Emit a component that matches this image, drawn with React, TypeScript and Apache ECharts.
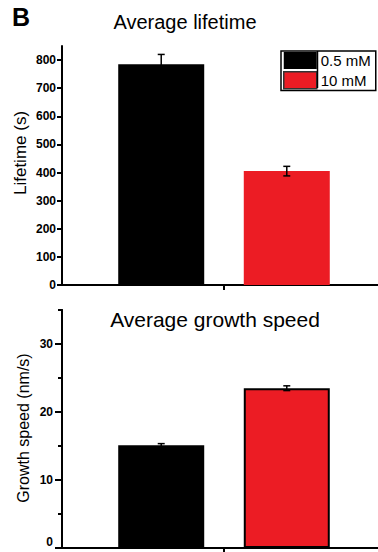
import React, { useEffect, useRef } from "react";
import * as echarts from "echarts";

// ---- data ----
const conditions = ["0.5 mM", "10 mM"];
const barColors = ["#000000", "#ec1c24"];
const category = [""];

const lifetimeMean = [785, 405];
const lifetimeErr = [35, 17];
const lifetimeTicks = [0, 100, 200, 300, 400, 500, 600, 700, 800];
const lifetimeMax = 850;

const speedMean = [15.1, 23.5];
const speedErr = [0.25, 0.35];
const speedTicks = [0, 10, 20, 30];
const speedMinorInterval = 5;
const speedMax = 35;

const panelLetter = "B";
const titles = ["Average lifetime", "Average growth speed"];
const yNames = ["Lifetime (s)", "Growth speed (nm/s)"];

// ---- style constants ----
const FONT = "'Liberation Sans', Arial, Helvetica, sans-serif";
const BAR_WIDTH = 86;
const BAR_GAP = 0.46;

const barOffset = (i: number) => (i - 0.5) * BAR_WIDTH * (1 + BAR_GAP);

function errorSeries(axisIdx: number, means: number[], errs: number[], i: number) {
  return {
    type: "custom",
    xAxisIndex: axisIdx,
    yAxisIndex: axisIdx,
    z: 10,
    encode: { x: 0, y: 1 },
    data: [[0, means[i], errs[i]]],
    renderItem: (params: any, api: any) => {
      const cat = api.value(0);
      const m = api.value(1);
      const e = api.value(2);
      const c = api.coord([cat, m]);
      const hi = api.coord([cat, m + e]);
      const lo = api.coord([cat, m - e]);
      const x = c[0] + barOffset(i);
      const cap = 3.5;
      const st = { stroke: "#000", lineWidth: 1.5 };
      return {
        type: "group",
        children: [
          { type: "line", shape: { x1: x, y1: hi[1], x2: x, y2: lo[1] }, style: st },
          { type: "line", shape: { x1: x - cap, y1: hi[1], x2: x + cap, y2: hi[1] }, style: st },
          { type: "line", shape: { x1: x - cap, y1: lo[1], x2: x + cap, y2: lo[1] }, style: st },
        ],
      };
    },
  };
}

export default function App() {
  const ref = useRef<HTMLDivElement>(null);
  useEffect(() => {
    if (!ref.current) return;
    const chart = echarts.init(ref.current, null, { renderer: "svg" });
    const axisLineStyle = { color: "#000", width: 2 };
    const tickLabel = { color: "#000", fontSize: 12, fontFamily: FONT, fontWeight: "bold" as const };

    const xAxisBase = (gridIndex: number) => ({
      type: "category",
      gridIndex,
      data: category,
      axisLine: { lineStyle: axisLineStyle },
      axisTick: { show: true, alignWithLabel: true, length: 5, lineStyle: { color: "#000", width: 2 } },
      axisLabel: { show: false },
      splitLine: { show: false },
    });

    chart.setOption({
      animation: false,
      backgroundColor: "#fff",
      textStyle: { fontFamily: FONT },
      grid: [
        { left: 62, width: 324, top: 46, height: 239, outerBoundsMode: "none", containLabel: false },
        { left: 62, width: 324, top: 310, height: 238, outerBoundsMode: "none", containLabel: false },
      ],
      xAxis: [xAxisBase(0), xAxisBase(1)],
      yAxis: [
        {
          type: "value",
          gridIndex: 0,
          position: "left",
          min: 0,
          max: lifetimeMax,
          axisLine: { show: true, lineStyle: axisLineStyle },
          axisTick: { show: true, length: 5, customValues: lifetimeTicks, lineStyle: { color: "#000", width: 2 } },
          axisLabel: { ...tickLabel, margin: 6, customValues: lifetimeTicks },
          splitLine: { show: false },
        },
        {
          type: "value",
          gridIndex: 1,
          position: "left",
          min: 0,
          max: speedMax,
          axisLine: { show: true, lineStyle: axisLineStyle },
          axisTick: { show: true, length: 7, customValues: speedTicks, lineStyle: { color: "#000", width: 2 } },
          axisLabel: { ...tickLabel, margin: 9, customValues: speedTicks.filter((v) => v !== 0) },
          splitLine: { show: false },
        },
        {
          // minor ticks every 5 and the bottom "0" label (kept inside the page)
          type: "value",
          gridIndex: 1,
          position: "left",
          offset: 0,
          min: 0,
          max: speedMax,
          interval: speedMinorInterval,
          axisLine: { show: true, lineStyle: axisLineStyle },
          axisTick: { show: true, length: 4, lineStyle: { color: "#000", width: 2 } },
          axisLabel: {
            ...tickLabel,
            margin: 9,
            verticalAlign: "bottom",
            formatter: (v: number) => (v === speedTicks[0] ? String(v) : ""),
          },
          splitLine: { show: false },
        },
      ],
      legend: {
        orient: "vertical",
        left: 281,
        top: 51,
        padding: [1, 5, 1, 2],
        itemGap: 2,
        itemWidth: 33,
        itemHeight: 17,
        icon: "rect",
        backgroundColor: "#fff",
        borderColor: "#000",
        borderWidth: 1.5,
        textStyle: { color: "#000", fontSize: 15, fontFamily: FONT, padding: [0, 0, 0, -1] },
        data: conditions.map((name, i) => ({
          name,
          itemStyle: { color: barColors[i], borderColor: "#333", borderWidth: i === 1 ? 1.5 : 0 },
        })),
      },
      graphic: [
        {
          type: "text",
          left: 12,
          top: 4,
          style: { text: panelLetter, fontSize: 25, fontWeight: "bold", fontFamily: FONT, fill: "#000" },
        },
        {
          type: "text",
          x: 185,
          y: 22,
          style: { text: titles[0], fontSize: 20, fontFamily: FONT, fill: "#000", textAlign: "center", textVerticalAlign: "middle" },
        },
        {
          type: "text",
          x: 215,
          y: 319,
          style: { text: titles[1], fontSize: 21, fontFamily: FONT, fill: "#000", textAlign: "center", textVerticalAlign: "middle" },
        },
        {
          type: "text",
          x: 20,
          y: 153,
          rotation: Math.PI / 2,
          style: { text: yNames[0], fontSize: 17, fontFamily: FONT, fill: "#000", textAlign: "center", textVerticalAlign: "middle" },
        },
        {
          type: "text",
          x: 23,
          y: 428,
          rotation: Math.PI / 2,
          style: { text: yNames[1], fontSize: 16, fontFamily: FONT, fill: "#000", textAlign: "center", textVerticalAlign: "middle" },
        },
        {
          type: "line",
          z: 100,
          shape: { x1: 317.5, y1: 51, x2: 317.5, y2: 88 },
          style: { stroke: "#000", lineWidth: 1.5 },
        },
      ],
      series: [
        ...conditions.map((name, i) => ({
          type: "bar",
          name,
          xAxisIndex: 0,
          yAxisIndex: 0,
          barWidth: BAR_WIDTH,
          barGap: `${BAR_GAP * 100}%`,
          data: [lifetimeMean[i]],
          itemStyle: { color: barColors[i] },
        })),
        ...conditions.map((name, i) => ({
          type: "bar",
          name,
          xAxisIndex: 1,
          yAxisIndex: 1,
          barWidth: BAR_WIDTH,
          barGap: `${BAR_GAP * 100}%`,
          data: [speedMean[i]],
          itemStyle: { color: barColors[i], borderColor: "#000", borderWidth: 2 },
        })),
        ...conditions.map((_, i) => errorSeries(0, lifetimeMean, lifetimeErr, i)),
        ...conditions.map((_, i) => errorSeries(1, speedMean, speedErr, i)),
      ],
    });
    return () => chart.dispose();
  }, []);
  return (
    <div
      ref={ref}
      style={{ position: "fixed", left: 0, top: 0, width: 378, height: 552, background: "#fff" }}
    />
  );
}
